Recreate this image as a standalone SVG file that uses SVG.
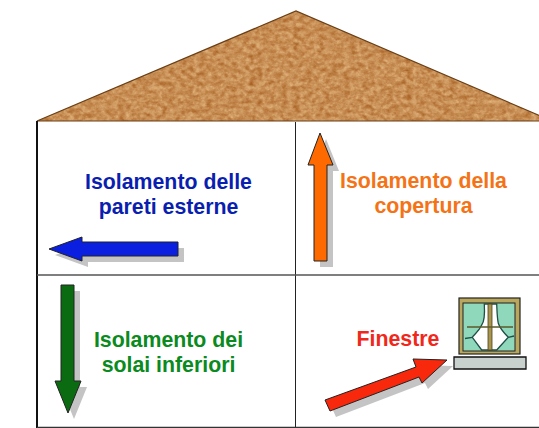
<svg xmlns="http://www.w3.org/2000/svg" width="539" height="428" viewBox="0 0 539 428">
<defs>
<filter id="cork" x="0" y="0" width="1" height="1" color-interpolation-filters="sRGB">
<feTurbulence type="fractalNoise" baseFrequency="0.16 0.22" numOctaves="3" seed="7"/>
<feColorMatrix values="0 0 0 0 0.66  0 0 0 0 0.38  0 0 0 0 0.14  1.3 1.1 0 0 -0.92"/>
<feComposite in2="SourceAlpha" operator="in" result="spots"/>
<feTurbulence type="fractalNoise" baseFrequency="0.3" numOctaves="2" seed="21"/>
<feColorMatrix values="0 0 0 0 0.9  0 0 0 0 0.72  0 0 0 0 0.5  1.4 0.8 0 0 -0.85"/>
<feComposite in2="SourceAlpha" operator="in" result="lights"/>
<feFlood flood-color="#cd9860"/>
<feComposite in2="SourceAlpha" operator="in"/>
<feMerge><feMergeNode/><feMergeNode in="lights"/><feMergeNode in="spots"/></feMerge>
</filter>
<path id="a-blue" d="M49 249L82 237V242H178V256H82V261Z"/>
<path id="a-green" d="M61 285H74V381H81L68 413L55 381H61Z"/>
<path id="a-orange" d="M320 133L333 165H327V261H314V165H308Z"/>
<path id="a-red" d="M330 411L325 400L416 367L413 359L447 360L422 383L419 377Z"/>
</defs>
<style>
.t{font-family:"Liberation Sans",Arial,sans-serif;font-size:21.3px;font-weight:bold;text-anchor:middle}
.sh{fill:#c4c4c4}
.ar{stroke:#222;stroke-width:1}
</style>
<g id="roof">
<path d="M37 121L296 11L552 121Z" fill="#a5621f" filter="url(#cork)"/>
<path d="M37 121L296 11L552 121Z" fill="none" stroke="#6a3f16" stroke-width="1.2"/>
</g>
<g id="walls" fill="none">
<path d="M37 121V428" stroke="#111" stroke-width="2"/>
<path d="M295.500 122V427" stroke="#222" stroke-width="1"/>
<path d="M37 275H539" stroke="#555" stroke-width="1.500"/>
<path d="M37 427.500H539" stroke="#333" stroke-width="1.500"/>
</g>
<g id="connectors">
<use href="#a-blue" class="sh" x="6" y="6"/>
<use href="#a-blue" class="ar" fill="#0a1fe0"/>
<use href="#a-green" class="sh" x="6" y="6"/>
<use href="#a-green" class="ar" fill="#0b6b10"/>
<use href="#a-orange" class="sh" x="6" y="6"/>
<use href="#a-orange" class="ar" fill="#ff6a00"/>
<use href="#a-red" class="sh" x="6" y="6"/>
<use href="#a-red" class="ar" fill="#f8280c"/>
</g>
<g id="window">
<rect x="459" y="298" width="61" height="56" fill="#b8a75c" stroke="#222" stroke-width="1.200"/>
<rect x="463" y="303" width="52" height="48" fill="#8fd8bc" stroke="#222" stroke-width="1"/>
<path d="M484.300 304C485 316 484 322 481.700 325C479 331 475 334 472.300 337.300L481.700 350H496.700L508.300 337.300C504 333 500 329 498.300 323.300C497 317 497 310 496.700 304Z" fill="#fff" stroke="#1f4f45" stroke-width="1.300"/>
<path d="M465 338.500L472.300 337.300M508.300 337.300L514 336" stroke="#1f4f45" stroke-width="1.300" fill="none"/>
<rect x="488" y="304" width="4" height="46" fill="#a8964e" stroke="#4a4020" stroke-width="0.800"/>
<path d="M467 327H513" stroke="#5b5a2a" stroke-width="1.500"/>
<path d="M454 357H526V369H454Z" fill="#c9d1cf" stroke="#111" stroke-width="1.300"/>
</g>
<g id="label-pareti"><text class="t" x="168.500" y="189" fill="#0a1fb0">Isolamento delle</text><text class="t" x="168.500" y="214" fill="#0a1fb0">pareti esterne</text></g>
<g id="label-copertura"><text class="t" x="423.500" y="188" fill="#f47316">Isolamento della</text><text class="t" x="423.500" y="213" fill="#f47316">copertura</text></g>
<g id="label-solai"><text class="t" x="168.500" y="347" fill="#0a8a20">Isolamento dei</text><text class="t" x="168.500" y="372" fill="#0a8a20">solai inferiori</text></g>
<g id="label-finestre"><text class="t" x="398" y="346" fill="#f0281c">Finestre</text></g>
</svg>
